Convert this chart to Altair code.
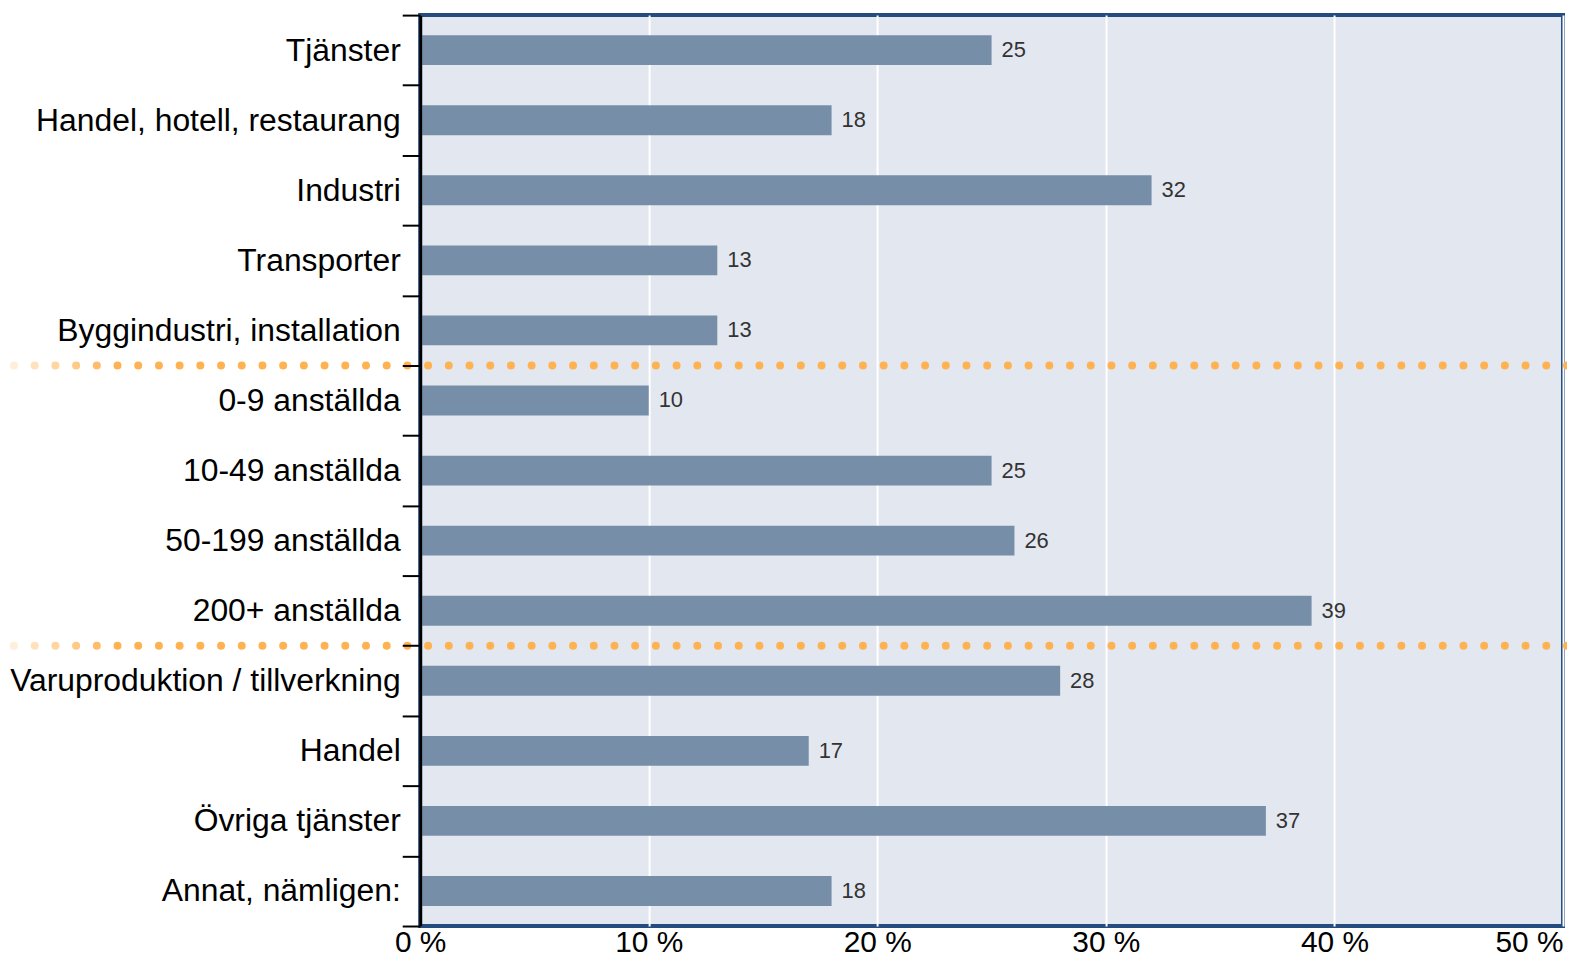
import altair as alt
import pandas as pd

categories = [
    "Tjänster",
    "Handel, hotell, restaurang",
    "Industri",
    "Transporter",
    "Byggindustri, installation",
    "0-9 anställda",
    "10-49 anställda",
    "50-199 anställda",
    "200+ anställda",
    "Varuproduktion / tillverkning",
    "Handel",
    "Övriga tjänster",
    "Annat, nämligen:",
]
values = [25, 18, 32, 13, 13, 10, 25, 26, 39, 28, 17, 37, 18]
separators = ["0-9 anställda", "Varuproduktion / tillverkning"]
x_ticks = [0, 10, 20, 30, 40, 50]

df = pd.DataFrame({"cat": categories, "val": values})
sep_df = pd.DataFrame({"cat": separators})

W = 1148
H = 915
FONT = "Liberation Sans"
BAR = "#778EA8"
ORANGE = "#FFB252"

yscale = alt.Scale(domain=categories, paddingInner=0, paddingOuter=0)
xscale = alt.Scale(domain=[0, 50], nice=False)

bars = alt.Chart(df).mark_bar(color=BAR, size=30).encode(
    y=alt.Y(
        "cat:N",
        scale=yscale,
        sort=None,
        title=None,
        axis=alt.Axis(
            tickBand="extent",
            tickSize=18,
            tickWidth=2,
            tickColor="black",
            domainColor="black",
            domainWidth=3,
            labelFontSize=32,
            labelFont=FONT,
            labelColor="black",
            labelPadding=2,
            labelLimit=600,
            zindex=2,
        ),
    ),
    x=alt.X(
        "val:Q",
        scale=xscale,
        title=None,
        axis=alt.Axis(
            values=x_ticks,
            labelExpr="datum.value + ' %'",
            labelAlign={"expr": "datum.value == 50 ? 'right' : 'center'"},
            labelFontSize=30,
            labelFont=FONT,
            labelColor="black",
            labelPadding=2,
            domain=False,
            ticks=False,
            grid=True,
            gridColor="white",
            gridWidth=2,
            gridOpacity=1,
        ),
    ),
)

labels = alt.Chart(df).mark_text(
    align="left", baseline="middle", dx=10, fontSize=22, font=FONT, color="#333333"
).encode(
    y=alt.Y("cat:N", scale=yscale, sort=None, title=None),
    x=alt.X("val:Q", scale=xscale, title=None),
    text=alt.Text("val:Q"),
)

SP = 20.8
X0 = -408
fade = [0.22, 0.38, 0.55, 0.7, 0.85]

dotted = alt.Chart(sep_df).mark_rule(
    color=ORANGE, strokeWidth=8, strokeCap="round", strokeDash=[0, SP]
).encode(
    y=alt.Y("cat:N", scale=yscale, sort=None, bandPosition=0, title=None),
    x=alt.value(X0 + len(fade) * SP),
    x2=alt.value(W + 4),
)

layers = [bars, labels, dotted]
for i, op in enumerate(fade):
    xx = X0 + i * SP
    layers.append(
        alt.Chart(sep_df).mark_rule(
            color=ORANGE, strokeWidth=8, strokeCap="round", opacity=op
        ).encode(
            y=alt.Y("cat:N", scale=yscale, sort=None, bandPosition=0, title=None),
            x=alt.value(xx),
            x2=alt.value(xx + 0.05),
        )
    )

chart = alt.layer(*layers).properties(
    width=W,
    height=H,
    autosize=alt.AutoSizeParams(type="none"),
    padding={"left": 414, "right": 4, "top": 5, "bottom": 31},
    background="white",
).configure_view(
    fill="#E3E7EF",
    stroke="#244C7F",
    strokeWidth=4,
)

chart.save("out.html", embed_options={"renderer": "svg", "actions": False})
